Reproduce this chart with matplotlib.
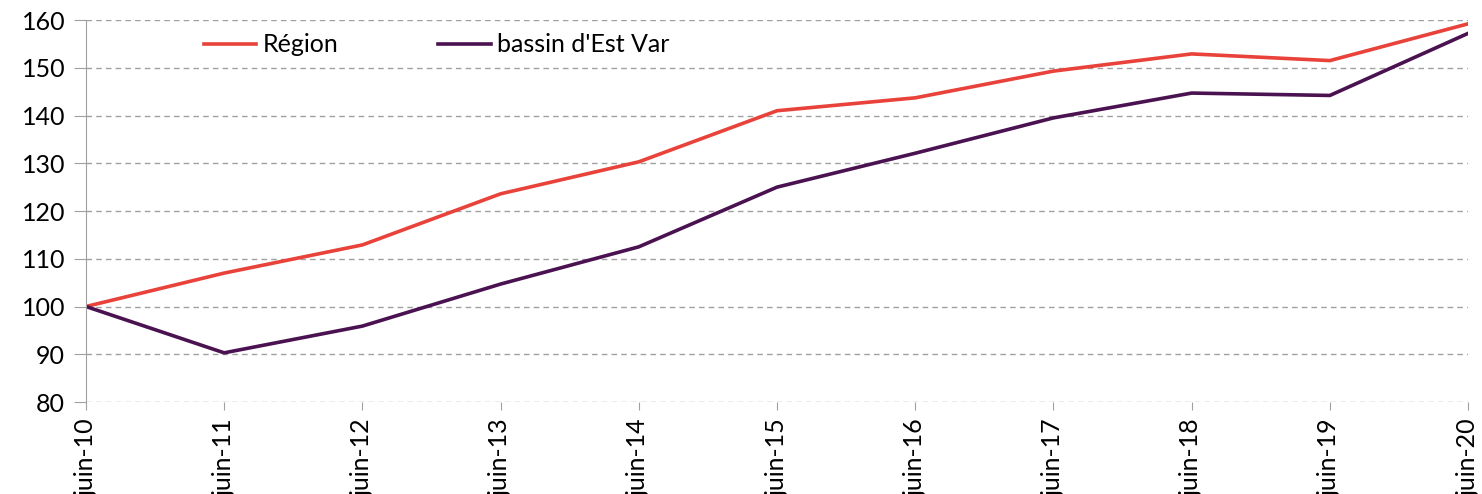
import numpy as np
import matplotlib.pyplot as plt

plt.rcParams['font.family'] = ['Lato', 'DejaVu Sans']

labels = ['juin-10', 'juin-11', 'juin-12', 'juin-13', 'juin-14', 'juin-15',
          'juin-16', 'juin-17', 'juin-18', 'juin-19', 'juin-20']
region = [100, 107.0, 112.9, 123.6, 130.3, 141.0, 143.7, 149.3, 152.9, 151.5, 159.2]
bassin = [100, 90.3, 95.9, 104.7, 112.5, 125.0, 132.1, 139.5, 144.7, 144.2, 157.2]

x = np.arange(len(labels))

fig = plt.figure(figsize=(14.82, 4.94), dpi=100)
ax = fig.add_axes([0.058, 0.1862, 0.9326, 0.7733])

ax.plot(x, region, color='#E8423A', lw=2.6, label='Région')
ax.plot(x, bassin, color='#4A1250', lw=2.6, label='bassin d\'Est Var')

ax.set_xlim(0, len(labels) - 1)
ax.set_ylim(80, 160)
ax.set_yticks(range(80, 161, 10))
ax.set_xticks(x)
ax.set_xticklabels(labels, rotation=90, fontsize=18)
ax.tick_params(axis='y', labelsize=18, length=9, color='#A0A0A0', pad=6)
ax.tick_params(axis='x', length=6, color='#A0A0A0', pad=6)

ax.grid(axis='y', linestyle=(0, (4, 3)), color='#A0A0A0', lw=1)
for s in ['top', 'right', 'bottom']:
    ax.spines[s].set_visible(False)
ax.spines['left'].set_color('#A0A0A0')

leg = ax.legend(loc='center left', bbox_to_anchor=(0.069, 0.935), ncol=2,
                frameon=False, fontsize=18, handlelength=2.1, handletextpad=0.25,
                columnspacing=4.0)

fig.savefig('out.png', dpi=100)
